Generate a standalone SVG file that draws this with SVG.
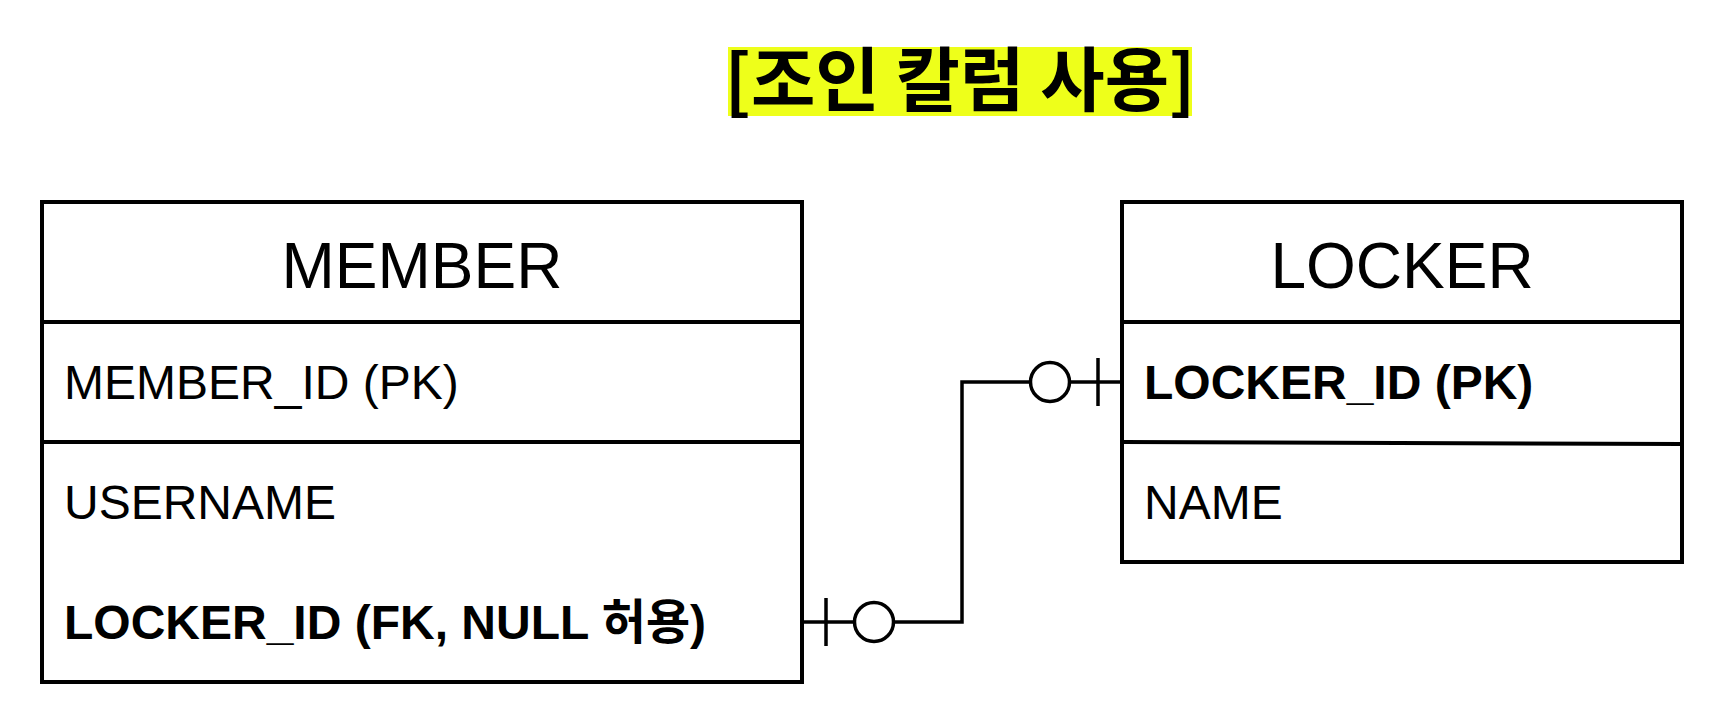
<svg xmlns="http://www.w3.org/2000/svg" width="1728" height="724" viewBox="0 0 1728 724">
  <style>
    .box { fill: #ffffff; stroke: #000000; stroke-width: 4; }
    .sep { fill: none; stroke: #000000; stroke-width: 4; }
    .edge { fill: none; stroke: #000000; stroke-width: 3.5; }
    .hdr { font-family: "Liberation Sans", Arial, "Noto Sans CJK KR", sans-serif; font-size: 64px; fill: #000000; text-anchor: middle; }
    .row { font-family: "Liberation Sans", Arial, "Noto Sans CJK KR", sans-serif; font-size: 48px; fill: #000000; }
    .bold { font-weight: bold; }
    .title { font-family: "Noto Sans CJK KR", "Liberation Sans", sans-serif; font-size: 70px; font-weight: bold; fill: #000000; text-anchor: middle; }
  </style>
  <rect x="0" y="0" width="1728" height="724" fill="#ffffff"/>

  <g id="title">
    <rect x="728" y="47" width="464" height="69" fill="#EEFF1A"/>
    <text class="title" x="960" y="106">[조인 칼럼 사용]</text>
  </g>

  <g id="member">
    <rect class="box" x="42" y="202" width="760" height="480"/>
    <line class="sep" x1="42" y1="322" x2="802" y2="322"/>
    <line class="sep" x1="42" y1="442" x2="802" y2="442"/>
    <text class="hdr" x="422" y="288">MEMBER</text>
    <text class="row" x="64" y="399">MEMBER_ID (PK)</text>
    <text class="row" x="64" y="519">USERNAME</text>
    <text class="row bold" x="64" y="639">LOCKER_ID (FK, NULL 허용)</text>
  </g>

  <g id="locker">
    <rect class="box" x="1122" y="202" width="560" height="360"/>
    <line class="sep" x1="1122" y1="322" x2="1682" y2="322"/>
    <line class="sep" x1="1122" y1="442" x2="1682" y2="444"/>
    <text class="hdr" x="1402" y="288">LOCKER</text>
    <text class="row bold" x="1144" y="399">LOCKER_ID (PK)</text>
    <text class="row" x="1144" y="519">NAME</text>
  </g>

  <g id="connectors">
    <polyline class="edge" points="802,622 962,622 962,382 1122,382"/>
    <line class="edge" x1="826" y1="598" x2="826" y2="646"/>
    <circle class="edge" cx="874" cy="622" r="19.5" style="fill:#ffffff"/>
    <line class="edge" x1="1098" y1="358" x2="1098" y2="406"/>
    <circle class="edge" cx="1050" cy="382" r="19.5" style="fill:#ffffff"/>
  </g>
</svg>
